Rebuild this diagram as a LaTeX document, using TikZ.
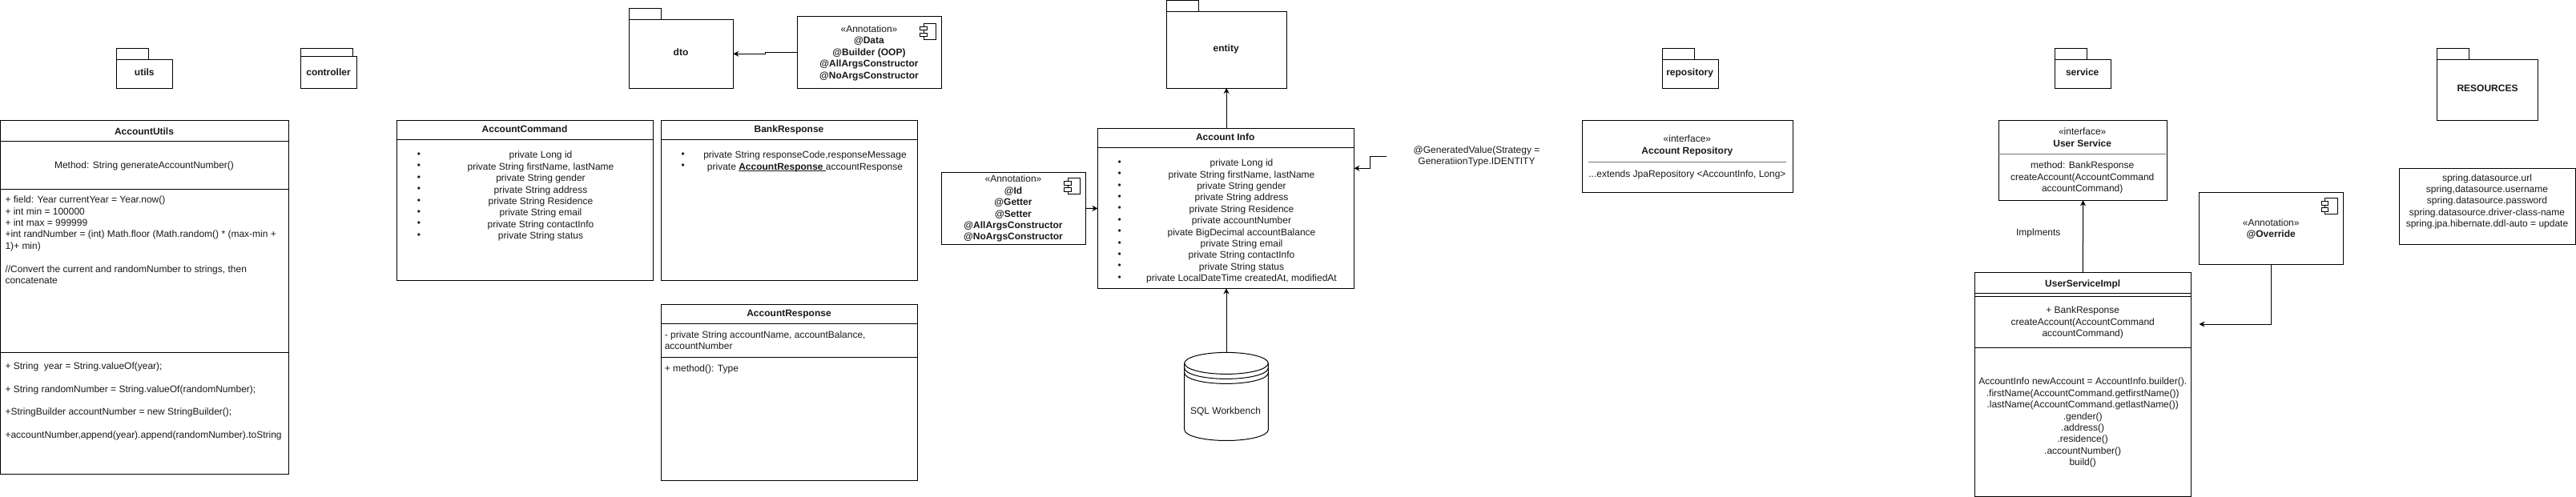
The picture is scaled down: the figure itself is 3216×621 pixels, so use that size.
\documentclass[tikz,border=0pt]{standalone}
\usepackage{fontspec}
\setmainfont{Liberation Sans}
\usetikzlibrary{arrows.meta}
\tikzset{
  umlbox/.style={draw=black,line width=1pt,fill=none,anchor=north west,inner sep=0pt,outer sep=0pt},
  txt/.style={inner sep=0pt,outer sep=0pt,align=center,anchor=center,text=black!90,yshift=-2pt,
    font=\fontsize{12}{14.4}\selectfont,
    execute at begin node=\strut,execute at end node=\strut},
  txl/.style={txt,align=left,anchor=west},
  bold/.style={font=\fontsize{12}{14.4}\selectfont\bfseries},
  conn/.style={draw=black,line width=1pt,-{Stealth[length=7pt,width=7pt]}},
  rule/.style={draw=black,line width=1pt},
  thinrule/.style={draw=black!55,line width=.8pt}
}
\newcommand\bx[5]{%
  \pgfmathsetmacro\bw{#4-#2}\pgfmathsetmacro\bh{#5-#3}%
  \node[umlbox,minimum width=\bw pt,minimum height=\bh pt] (#1) at (#2,#3) {};}
\newcommand\tx[5][]{\node[txt,#1] (#2) at (#3,#4) {#5};}
\newcommand\cl[3][rule]{\draw[#1] (#2.west |- 0,#3) -- (#2.east |- 0,#3);}
% name, x1, tabright, x2, tabtop, bodytop, bottom
\newcommand\pkg[7]{\bx{#1}{#2}{#6}{#4}{#7}\draw[rule] (#2,#5) rectangle (#3,#6);}
% left, top of the component icon
\newcommand\icon[2]{%
  \draw[rule,line width=.9pt] (#1+4.5,#2) rectangle (#1+20,#2+20);
  \draw[rule,line width=.9pt,fill=white] (#1,#2+4) rectangle (#1+8.5,#2+8.5);
  \draw[rule,line width=.9pt,fill=white] (#1,#2+12) rectangle (#1+8.5,#2+16.5);}
\begin{document}
\begin{tikzpicture}[x=1pt,y=-1pt]
\useasboundingbox (0,0) rectangle (3216,621);

% packages
\pkg{putils}{145.3}{185.3}{215.3}{60}{74.5}{110}
\tx[bold]{lutils}{180.3}{89.5}{utils}
\pkg{pcontroller}{375.3}{440.3}{445.3}{60}{70.5}{110}
\tx[bold]{lcontroller}{410}{89.5}{controller}
\pkg{pdto}{785.4}{825.5}{915.3}{10.3}{24.5}{110}
\tx[bold]{ldto}{850}{65}{dto}
\pkg{pentity}{1456.2}{1496}{1606.2}{0.5}{14.3}{110}
\tx[bold]{lentity}{1530.7}{60}{entity}
\pkg{prepo}{2075.6}{2115.4}{2145.3}{60}{74.5}{110}
\tx[bold]{lrepo}{2109.6}{89.9}{repository}
\pkg{pservice}{2565.4}{2605.5}{2635.4}{60}{74.5}{110}
\tx[bold]{lservice}{2599.7}{89.9}{service}
\pkg{pres}{3042.3}{3082.7}{3168.5}{60}{74.5}{150.5}
\tx[bold]{lres}{3105.5}{109.3}{RESOURCES}

% AccountUtils
\bx{au}{0.5}{150.5}{360.3}{592.5}
\cl{au}{176.2}\cl{au}{236.4}\cl{au}{440}
\tx[bold]{autitle}{180}{163.6}{AccountUtils}
\tx{aumethod}{180}{205.5}{Method: String generateAccountNumber()}
\node[txl] (aufields) at (6.5,300) {+ field: Year currentYear = Year.now()\\
+ int min = 100000\\
+ int max = 999999\\
+int randNumber = (int) Math.floor (Math.random() * (max-min +\\
1)+ min)\\[14.4pt]
//Convert the current and randomNumber to strings, then\\
concatenate};
\node[txl] (auops) at (6.5,500.4) {+ String\ \ year = String.valueOf(year);\\[14.4pt]
+ String randomNumber = String.valueOf(randomNumber);\\[14.4pt]
+StringBuilder accountNumber = new StringBuilder();\\[14.4pt]
+accountNumber,append(year).append(randomNumber).toString};

% AccountCommand
\bx{ac}{495.6}{150.5}{815.3}{350.1}
\cl{ac}{174.3}
\tx[bold]{actitle}{655}{160.4}{AccountCommand}
\tx{acbul}{522.9}{244.2}{•\\•\\•\\•\\•\\•\\•\\•}
\tx{aclist}{675}{244.2}{private Long id\\
private String firstName, lastName\\
private String gender\\
private String address\\
private String Residence\\
private String email\\
private String contactInfo\\
private String status}

% BankResponse
\bx{br}{825.5}{150.5}{1145.6}{350.1}
\cl{br}{174.3}
\tx[bold]{brtitle}{985}{160.4}{BankResponse}
\tx{brbul}{852.8}{200.9}{•\\•}
\tx{brlist}{1005}{200.9}{private String responseCode,responseMessage\\
private \underline{\smash{\textbf{AccountResponse }}}accountResponse}

% AccountResponse
\bx{ar}{825.5}{380.2}{1145.6}{600.4}
\cl{ar}{404.4}\cl{ar}{446.3}
\tx[bold]{artitle}{985}{390.5}{AccountResponse}
\node[txl] (arfields) at (829.8,425.1) {- private String accountName, accountBalance,\\accountNumber};
\node[txl] (arops) at (829.8,459.4) {+ method(): Type};

% Annotation of dto
\bx{andto}{995.6}{20.6}{1175.5}{110}
\icon{1148.5}{29}
\tx{andtotext}{1085}{65.2}{«Annotation»\\\textbf{@Data}\\\textbf{@Builder (OOP)}\\\textbf{@AllArgsConstructor}\\\textbf{@NoArgsConstructor}}
\draw[conn] (andto.west) -- ++(-40.2,0) |- (pdto.east);

% Annotation of Account Info
\bx{anid}{1175.6}{215.4}{1355.7}{305.3}
\icon{1328.6}{222.6}
\tx{anidtext}{1265}{259.7}{«Annotation»\\\textbf{@Id}\\\textbf{@Getter}\\\textbf{@Setter}\\\textbf{@AllArgsConstructor}\\\textbf{@NoArgsConstructor}}

% Account Info
\bx{ai}{1370.5}{160.4}{1690.4}{360.4}
\cl{ai}{184.6}
\tx[bold]{aititle}{1529.7}{170.7}{Account Info}
\tx{aibul}{1397.6}{275.6}{•\\•\\•\\•\\•\\•\\•\\•\\•\\•\\•}
\tx{ailist}{1550}{275.6}{private Long id\\
private String firstName, lastName\\
private String gender\\
private String address\\
private String Residence\\
private accountNumber\\
pivate BigDecimal accountBalance\\
private String email\\
private String contactInfo\\
private String status\\
private LocalDateTime createdAt, modifiedAt}
\draw[conn] (anid.east) -- (ai.west);
\draw[conn] (pentity.south |- ai.north) -- (pentity.south);

% GeneratedValue note
\node[txt,minimum width=225.6pt,yshift=2pt] (gen) at (1843.5,195.2) {\raisebox{-2pt}{@GeneratedValue(Strategy =}\\\raisebox{-2pt}{GeneratiionType.IDENTITY}};
\draw[conn] (gen.west) -| (1710.3,210.3) -- (ai.east |- 0,210.3);

% SQL Workbench
\node[inner sep=0pt,outer sep=0pt,minimum width=104.6pt,minimum height=110.1pt,anchor=north west] (sql) at (1478.7,440.4) {};
\draw[rule] (sql.west |- 0,453.9) -- (sql.west |- 0,537)
  arc[start angle=180,end angle=360,x radius=52.3pt,y radius=13.5pt]
  -- (sql.east |- 0,453.9)
  arc[start angle=0,end angle=180,x radius=52.3pt,y radius=13.5pt];
\draw[rule] (sql.west |- 0,453.9) arc[start angle=180,end angle=360,x radius=52.3pt,y radius=13.5pt];
\draw[rule] (sql.west |- 0,459.9) arc[start angle=180,end angle=360,x radius=52.3pt,y radius=13.5pt];
\draw[rule] (sql.west |- 0,465.9) arc[start angle=180,end angle=360,x radius=52.3pt,y radius=13.5pt];
\tx{sqltext}{1530}{512.5}{SQL Workbench}
\draw[conn] (sql.north) -- (sql.north |- ai.south);

% Account Repository
\bx{repo}{1975.6}{150.5}{2238.6}{240.4}
\tx{repohead}{2106.4}{180.8}{«interface»\\\textbf{Account Repository}}
\draw[thinrule] (1983,202.4) -- (2229.6,202.4);
\tx{repobody}{2106.4}{216.6}{...extends JpaRepository <AccountInfo, Long>}

% User Service
\bx{us}{2495.3}{150.5}{2705.7}{250.3}
\tx{ushead}{2599.7}{171.7}{«interface»\\\textbf{User Service}}
\draw[thinrule] (us.west |- 0,192.5) -- (2703.6,192.5);
\tx{usbody}{2599.7}{221.2}{method: BankResponse\\createAccount(AccountCommand\\accountCommand)}

% UserServiceImpl
\bx{impl}{2465.4}{340.2}{2735.5}{620.2}
\cl{impl}{366.3}\cl{impl}{370.3}\cl{impl}{434.5}
\tx[bold]{impltitle}{2600.2}{353.7}{UserServiceImpl}
\tx{implm}{2600.2}{402.1}{+ BankResponse\\createAccount(AccountCommand\\accountCommand)}
\tx{implbody}{2600.2}{527.1}{AccountInfo newAccount = AccountInfo.builder().\\
.firstName(AccountCommand.getfirstName())\\
.lastName(AccountCommand.getlastName())\\
.gender()\\
.address()\\
.residence()\\
.accountNumber()\\
build()}
\draw[conn] (impl.north) -- (us.south);
\tx{implements}{2544.8}{289.9}{Implments}

% Override
\bx{ov}{2745.5}{240.4}{2925.6}{330.3}
\icon{2898.4}{247.5}
\tx{ovtext}{2835.2}{285.1}{«Annotation»\\\textbf{@Override}}
\coordinate (ovend) at (2745.5,405.1);
\draw[conn] (ov.south) |- (ovend);

% application properties
\bx{props}{2995.5}{210.3}{3215.7}{305.3}
\tx{propstext}{3105}{250.7}{spring.datasource.url\\
spring,datasource.username\\
spring.datasource.password\\
spring.datasource.driver-class-name\\
spring.jpa.hibernate.ddl-auto = update}
\end{tikzpicture}
\end{document}
